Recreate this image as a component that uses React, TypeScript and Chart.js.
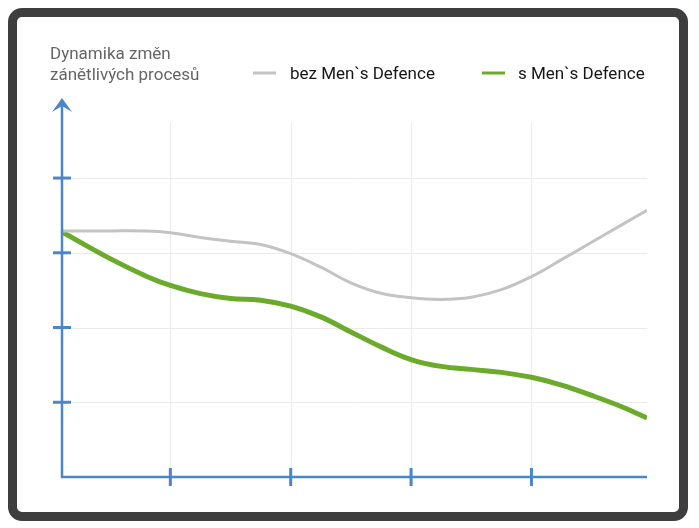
import React, { useEffect, useRef } from "react";
import { Chart, registerables } from "chart.js";

Chart.register(...registerables);

const titleLines = ["Dynamika změn", "zánětlivých procesů"];
const seriesNames = ["bez Men`s Defence", "s Men`s Defence"];
const xValues = [0.1, 0.5, 0.8, 1, 1.25, 1.5, 1.75, 2, 2.25, 2.5, 2.75, 3, 3.25, 3.5, 3.75, 4, 4.25, 4.5, 4.75, 4.96];
const bezValues = [3.293, 3.293, 3.291, 3.269, 3.205, 3.155, 3.111, 2.988, 2.807, 2.599, 2.459, 2.398, 2.376, 2.406, 2.507, 2.681, 2.908, 3.142, 3.373, 3.57];
const sValues = [3.279, 2.922, 2.687, 2.563, 2.453, 2.388, 2.366, 2.286, 2.142, 1.941, 1.741, 1.572, 1.48, 1.44, 1.4, 1.334, 1.23, 1.092, 0.94, 0.79];
const xTicks = [1, 2, 3, 4];
const yTicks = [1, 2, 3, 4];

const GRAY = "#c3c3c3";
const GREEN = "#6aab2c";
const BLUE = "#4a86c8";
const GRID = "#ebebeb";

const decor = {
  id: "decor",
  beforeDatasetsDraw(chart: any) {
    const { ctx, chartArea: a, scales } = chart;
    const x = scales.x, y = scales.y;
    ctx.save();
    ctx.strokeStyle = GRID;
    ctx.lineWidth = 1;
    for (const t of xTicks) {
      const px = Math.round(x.getPixelForValue(t)) + 0.5;
      ctx.beginPath();
      ctx.moveTo(px, a.top);
      ctx.lineTo(px, a.bottom);
      ctx.stroke();
    }
    for (const t of yTicks) {
      const py = Math.round(y.getPixelForValue(t)) + 0.5;
      ctx.beginPath();
      ctx.moveTo(a.left, py);
      ctx.lineTo(a.right, py);
      ctx.stroke();
    }
    ctx.restore();
  },
  afterDatasetsDraw(chart: any) {
    const { ctx, chartArea: a, scales } = chart;
    const x = scales.x, y = scales.y;
    ctx.save();
    ctx.strokeStyle = BLUE;
    ctx.fillStyle = BLUE;
    ctx.lineWidth = 2.5;
    const ax = a.left;
    const ay = y.getPixelForValue(0);
    ctx.beginPath();
    ctx.moveTo(ax, a.top - 20);
    ctx.lineTo(ax, ay);
    ctx.lineTo(a.right, ay);
    ctx.stroke();
    const tipY = a.top - 24;
    ctx.beginPath();
    ctx.moveTo(ax, tipY);
    ctx.lineTo(ax + 10, tipY + 14);
    ctx.lineTo(ax, tipY + 8);
    ctx.lineTo(ax - 10, tipY + 14);
    ctx.closePath();
    ctx.fill();
    ctx.lineWidth = 3;
    for (const t of yTicks) {
      const py = y.getPixelForValue(t);
      ctx.beginPath();
      ctx.moveTo(ax - 9, py);
      ctx.lineTo(ax + 9, py);
      ctx.stroke();
    }
    for (const t of xTicks) {
      const px = x.getPixelForValue(t);
      ctx.beginPath();
      ctx.moveTo(px, ay - 9);
      ctx.lineTo(px, ay + 9);
      ctx.stroke();
    }
    ctx.restore();

    ctx.save();
    ctx.font = "17px Roboto";
    ctx.fillStyle = "#656565";
    ctx.textBaseline = "alphabetic";
    ctx.fillText(titleLines[0], 50, 59);
    ctx.fillText(titleLines[1], 50, 80);
    const colors = [GRAY, GREEN];
    const lineX = [253, 482];
    const textX = [290, 518];
    ctx.font = "17px Roboto";
    for (let i = 0; i < 2; i++) {
      ctx.strokeStyle = colors[i];
      ctx.lineWidth = 3;
      ctx.beginPath();
      ctx.moveTo(lineX[i], 73);
      ctx.lineTo(lineX[i] + 23, 73);
      ctx.stroke();
      ctx.fillStyle = "#151515";
      ctx.fillText(seriesNames[i], textX[i], 79);
    }
    ctx.restore();
  },
};

export default function App() {
  const ref = useRef<HTMLCanvasElement | null>(null);
  useEffect(() => {
    if (!ref.current) return;
    const chart = new Chart(ref.current, {
      type: "line",
      data: {
        datasets: [
          {
            label: seriesNames[0],
            data: xValues.map((v, i) => ({ x: v, y: bezValues[i] })),
            borderColor: GRAY,
            borderWidth: 3,
            pointRadius: 0,
            tension: 0.4,
          },
          {
            label: seriesNames[1],
            data: xValues.map((v, i) => ({ x: v, y: sValues[i] })),
            borderColor: GREEN,
            borderWidth: 5,
            pointRadius: 0,
            tension: 0.4,
          },
        ],
      },
      options: {
        responsive: false,
        animation: false,
        devicePixelRatio: 1,
        layout: { padding: { left: 62, right: 52, top: 122, bottom: 51 } },
        plugins: { legend: { display: false }, title: { display: false }, tooltip: { enabled: false } },
        scales: {
          x: { type: "linear", min: 0.1, max: 4.96, display: false },
          y: { type: "linear", min: 0, max: 4.75, display: false },
        },
      },
      plugins: [decor],
    } as any);
    return () => chart.destroy();
  }, []);
  return (
    <div style={{ position: "fixed", left: 0, top: 0, width: 699, height: 528, background: "#fff" }}>
      <div
        style={{
          position: "absolute",
          left: 8,
          top: 8,
          width: 680,
          height: 513,
          boxSizing: "border-box",
          border: "9px solid #3e3e3e",
          borderRadius: 14,
          background: "#fff",
        }}
      />
      <canvas ref={ref} width={699} height={528} style={{ position: "absolute", left: 0, top: 0 }} />
    </div>
  );
}
